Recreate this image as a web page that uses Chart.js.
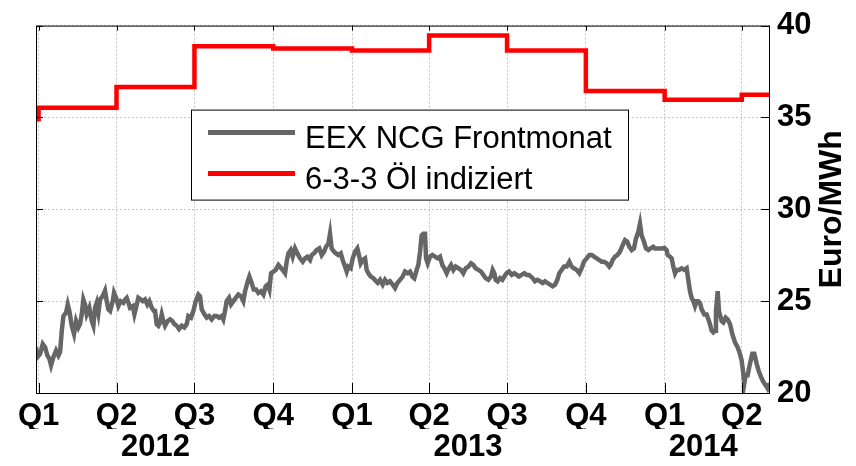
<!DOCTYPE html>
<html>
<head>
<meta charset="utf-8">
<script src="https://cdn.jsdelivr.net/npm/chart.js@4"></script>
<style>
  html, body { margin: 0; padding: 0; background: #fff; }
</style>
</head>
<body>
<canvas id="grafico" width="856" height="466"></canvas>
<script>
// Tage seit 01.01.2012
const quartalTage = [0, 91, 182, 274, 366, 456, 547, 639, 731, 821];
const quartalLabels = ['Q1', 'Q2', 'Q3', 'Q4', 'Q1', 'Q2', 'Q3', 'Q4', 'Q1', 'Q2'];
const jahrTage = [136.5, 501.5, 776];
const jahrLabels = ['2012', '2013', '2014'];
const yTicks = [20, 25, 30, 35, 40];

// 6-3-3 Öl indiziert (Stufen je Quartal)
const oelTage = [-3, 0, 91, 182, 274, 366, 456, 547, 639, 731, 821, 854];
const oelWerte = [34.9, 35.53, 36.66, 38.87, 38.76, 38.65, 39.46, 38.65, 36.44, 35.96, 36.23, 36.23];

// EEX NCG Frontmonat [Tag, Euro/MWh]
const gasWerte = [
  [-3, 22.49], [-1.4, 21.95], [1.8, 22.13], [4.9, 22.67], [7.6, 22.49], [10.3, 22.04], [12.7, 21.86], [14.6, 21.51],
  [17.3, 21.95], [20.4, 22.31], [23.2, 22.04], [25.1, 22.22], [27.1, 23.39], [29.0, 24.19], [32.1, 24.37], [34.1, 24.82],
  [36.0, 24.46], [38.7, 23.66], [41.4, 23.21], [43.8, 23.92], [46.5, 23.57], [48.4, 23.75], [50.4, 24.28], [52.3, 25.09],
  [54.3, 24.82], [56.2, 24.28], [59.3, 24.64], [62.1, 23.92], [64.0, 23.66], [66.0, 24.64], [67.9, 24.91], [69.9, 24.37],
  [71.8, 25.09], [74.9, 25.27], [77.6, 25.57], [79.6, 25.00], [81.5, 24.55], [83.5, 24.46], [86.6, 25.00], [88.1, 25.45],
  [90.5, 25.18], [93.2, 24.73], [95.9, 25.00], [99.0, 24.91], [101.0, 25.09], [102.9, 25.18], [104.9, 24.91], [106.8, 24.64],
  [110.0, 24.73], [111.9, 24.28], [113.8, 24.64], [116.5, 25.18], [119.3, 25.09], [121.6, 25.00], [124.3, 25.09], [127.0, 24.82],
  [129.4, 25.00], [132.1, 24.64], [134.8, 24.46],
  [136.0, 24.46], [137.9, 23.75], [139.9, 23.66], [141.8, 23.84], [143.8, 24.28], [145.7, 23.92], [147.7, 23.66], [150.8, 23.92],
  [153.5, 24.01], [156.2, 23.92], [158.6, 23.75], [161.3, 23.66], [164.0, 23.48], [167.1, 23.66], [170.2, 23.57], [173.0, 23.75],
  [174.9, 24.19], [178.0, 24.10], [180.7, 24.46], [183.5, 25.00], [186.6, 25.36], [188.5, 25.27], [190.5, 24.55], [193.6, 24.28],
  [196.3, 24.10], [199.0, 24.19], [202.1, 24.01], [205.2, 24.19], [208.0, 24.19], [210.7, 24.10], [213.8, 24.19], [215.7, 24.01],
  [217.7, 24.46], [219.6, 25.00], [222.4, 25.18], [224.7, 24.82], [227.4, 25.00], [230.2, 25.18], [233.3, 25.36], [236.4, 25.27],
  [239.1, 25.00], [241.1, 25.54], [244.2, 26.08], [246.1, 26.34], [248.8, 25.99], [251.2, 25.63], [253.9, 25.63], [256.6, 25.45],
  [259.7, 25.54], [262.5, 25.36], [265.2, 25.81], [267.5, 25.90], [269.5, 25.63], [271.4, 26.52], [274.1, 26.61], [276.9, 26.70],
  [280.0, 26.97],
  [285.0, 26.70], [287.8, 26.52], [289.7, 27.15], [291.7, 27.60], [294.4, 27.78], [296.7, 27.42], [299.4, 27.87], [302.2, 27.60],
  [305.3, 27.33], [308.4, 27.15], [311.1, 27.33], [313.8, 27.42], [317.0, 27.24], [318.9, 27.51], [321.6, 27.60], [324.7, 27.78],
  [327.8, 27.87], [330.6, 27.51], [333.3, 27.69], [335.6, 27.96], [338.4, 28.14], [340.3, 28.67], [342.2, 27.87], [345.0, 27.69],
  [347.3, 27.60], [350.0, 27.51], [352.8, 27.60], [355.1, 27.24], [357.8, 26.88], [359.8, 26.61], [361.7, 26.88], [364.4, 26.79],
  [366.8, 27.33], [369.5, 27.69], [372.2, 27.87], [374.5, 27.42], [376.1, 27.06], [378.4, 27.24], [381.2, 27.33], [383.1, 26.70],
  [385.1, 26.52], [387.8, 26.34], [390.9, 26.25], [394.0, 26.08], [396.0, 25.99], [398.7, 26.16], [401.8, 25.90], [404.5, 26.16],
  [407.2, 25.99], [410.3, 26.08], [413.5, 25.90], [416.2, 25.72], [418.9, 25.99], [422.0, 26.16], [425.1, 26.34], [427.9, 26.61],
  [431.0, 26.52], [433.7, 26.61], [436.4, 26.34], [438.7, 26.25], [441.5, 26.70], [443.4, 26.97], [445.4, 27.69], [447.3, 28.58],
  [449.3, 28.67], [451.2, 28.67], [452.4, 27.33], [454.3, 27.06], [457.0, 27.42], [459.8, 27.51], [462.9, 27.42], [466.0, 27.33],
  [468.7, 27.42], [471.4, 26.97], [473.8, 26.79], [476.5, 26.52], [479.2, 26.79], [481.6, 26.97], [484.3, 26.70], [487.0, 26.88],
  [490.1, 26.79], [493.2, 26.70], [495.9, 26.52], [498.7, 26.79], [501.8, 26.88], [504.9, 27.06], [507.6, 26.97], [510.3, 26.79],
  [513.4, 26.70], [516.6, 26.61], [519.3, 26.43], [522.0, 26.25], [525.1, 26.16], [528.2, 26.34], [530.2, 26.70], [532.1, 26.52],
  [533.7, 26.16], [536.0, 26.08], [538.8, 26.25], [541.5, 26.16], [543.8, 26.34], [546.5, 26.52], [549.3, 26.61], [552.4, 26.43],
  [555.5, 26.52], [558.2, 26.43], [560.9, 26.34], [564.0, 26.43], [567.2, 26.52], [569.9, 26.43], [572.6, 26.43],
  [576.9, 26.25], [579.6, 26.08], [582.3, 26.16], [585.5, 26.08], [588.6, 25.99], [591.3, 26.08], [594.0, 25.99], [597.1, 25.90],
  [600.2, 25.81], [603.0, 25.90], [605.7, 26.16], [608.0, 26.52], [610.7, 26.70], [613.5, 26.88], [616.6, 26.88], [619.7, 27.15],
  [622.4, 26.88], [625.1, 26.79], [628.3, 26.70], [631.4, 26.52], [634.1, 26.79], [636.8, 27.15], [640.0, 27.33], [643.1, 27.51],
  [645.8, 27.51], [648.5, 27.42], [651.6, 27.33], [654.7, 27.24], [657.4, 27.15], [660.2, 27.15], [663.3, 27.06], [666.4, 26.88],
  [668.0, 26.97], [670.3, 27.24], [673.0, 27.42], [675.7, 27.51], [678.8, 27.69], [682.0, 28.05], [684.7, 28.32], [687.4, 28.23],
  [689.7, 27.96], [692.5, 27.78], [695.2, 27.87], [697.5, 28.41], [700.2, 28.76], [702.2, 29.21], [704.1, 28.58], [706.9, 28.23],
  [709.2, 27.87], [711.9, 27.78], [714.6, 27.87], [717.7, 27.96],
  [719.7, 27.87], [722.8, 27.87], [725.5, 27.87], [728.3, 27.87], [730.6, 27.90], [733.3, 27.78], [734.5, 27.51], [737.2, 27.42],
  [739.2, 27.33], [741.1, 26.88], [743.1, 26.52], [745.0, 26.70], [747.7, 26.70], [750.8, 26.79], [754.0, 26.70], [756.7, 26.79],
  [758.6, 26.16], [760.6, 25.54], [762.5, 25.18], [764.5, 25.00], [766.4, 24.73], [768.4, 25.00], [770.3, 25.00], [772.2, 24.91],
  [774.2, 24.55], [777.3, 24.28], [780.0, 24.28], [782.0, 24.01], [783.9, 23.75], [785.9, 23.39], [787.8, 23.30], [789.8, 23.39],
  [790.9, 24.46], [792.9, 25.54], [794.4, 24.46], [796.0, 24.19], [797.5, 23.92], [799.5, 23.84], [802.2, 24.10], [804.5, 24.01],
  [807.3, 23.75], [810.0, 23.21], [813.1, 22.76], [816.2, 22.49], [818.9, 22.13], [820.9, 21.77], [822.8, 21.06], [824.0, 20.52],
  [825.6, 20.97], [827.9, 20.97], [830.6, 21.60], [833.3, 22.13], [835.7, 22.13], [838.4, 21.60], [841.1, 21.15], [843.5, 20.88],
  [846.2, 20.61], [848.9, 20.43], [851.2, 20.25], [852.8, 20.43], [854, 20.52]
];

const schrift = "'Liberation Sans', Arial, sans-serif";
Chart.defaults.font.family = schrift;
Chart.defaults.color = '#000';

// Rahmen, innenliegende Ticks, Legende und Achsentitel
const rahmen = {
  id: 'rahmen',
  afterDraw(chart) {
    const ctx = chart.ctx, a = chart.chartArea;
    const sx = chart.scales.x, sy = chart.scales.y;
    ctx.save();
    ctx.strokeStyle = '#000';
    ctx.lineWidth = 1;
    ctx.strokeRect(a.left + 0.5, a.top + 0.5, a.right - a.left - 1, a.bottom - a.top);
    ctx.beginPath();
    quartalTage.forEach(d => {
      const px = Math.round(sx.getPixelForValue(d)) + 0.5;
      ctx.moveTo(px, a.bottom); ctx.lineTo(px, a.bottom - 10);
      ctx.moveTo(px, a.top); ctx.lineTo(px, a.top + 5);
    });
    yTicks.forEach(v => {
      const py = Math.round(sy.getPixelForValue(v)) + 0.5;
      ctx.moveTo(a.right, py); ctx.lineTo(a.right - 9, py);
      ctx.moveTo(a.left, py); ctx.lineTo(a.left + 7, py);
    });
    ctx.stroke();

    // Legende
    const lx = a.left + 155, ly = a.top + 84;
    ctx.fillStyle = '#fff';
    ctx.fillRect(lx, ly, 437, 90);
    ctx.strokeRect(lx + 0.5, ly + 0.5, 437, 90);
    chart.data.datasets.forEach((ds, i) => {
      const yy = ly + 23 + i * 41;
      ctx.strokeStyle = ds.borderColor;
      ctx.lineWidth = 5;
      ctx.beginPath();
      ctx.moveTo(lx + 17, yy); ctx.lineTo(lx + 104, yy);
      ctx.stroke();
      ctx.fillStyle = '#000';
      ctx.font = '31px ' + schrift;
      ctx.textBaseline = 'alphabetic';
      ctx.textAlign = 'left';
      ctx.fillText(ds.label, lx + 114, yy + 15);
    });

    // Achsentitel
    ctx.translate(832, (a.top + a.bottom) / 2);
    ctx.rotate(-Math.PI / 2);
    ctx.font = 'bold 32px ' + schrift;
    ctx.textAlign = 'center';
    ctx.textBaseline = 'middle';
    ctx.fillText('Euro/MWh', 0, 0);
    ctx.restore();
  }
};

const grafico = document.getElementById('grafico').getContext('2d');

new Chart(grafico, {
  type: 'line',
  data: {
    datasets: [
      {
        label: 'EEX NCG Frontmonat',
        data: gasWerte.map(p => ({ x: p[0], y: p[1] })),
        borderColor: '#666666',
        borderWidth: 4.5,
        pointRadius: 0,
        tension: 0
      },
      {
        label: '6-3-3 Öl indiziert',
        data: oelTage.map((d, i) => ({ x: d, y: oelWerte[i] })),
        borderColor: '#ff0000',
        borderWidth: 4.5,
        pointRadius: 0,
        stepped: 'before'
      }
    ]
  },
  options: {
    responsive: false,
    animation: false,
    layout: { padding: { left: 36, top: 22, right: 0, bottom: 0 } },
    plugins: { legend: { display: false }, tooltip: { enabled: false } },
    scales: {
      x: {
        type: 'linear',
        position: 'bottom',
        min: -3,
        max: 854,
        afterBuildTicks: s => { s.ticks = quartalTage.map(v => ({ value: v })); },
        afterFit: s => { s.height = 36; },
        ticks: {
          autoSkip: false,
          maxRotation: 0,
          padding: 5,
          font: { size: 31, weight: 'bold' },
          callback: (v, i) => quartalLabels[i]
        },
        grid: { color: '#c4c4c4', lineWidth: 1, drawTicks: false },
        border: { display: false, dash: [2, 2] }
      },
      jahr: {
        type: 'linear',
        position: 'bottom',
        min: -3,
        max: 854,
        afterBuildTicks: s => { s.ticks = jahrTage.map(v => ({ value: v })); },
        afterFit: s => { s.height = 37; },
        ticks: {
          autoSkip: false,
          maxRotation: 0,
          padding: 0,
          font: { size: 31, weight: 'bold' },
          callback: (v, i) => jahrLabels[i]
        },
        grid: { display: false, drawTicks: false },
        border: { display: false }
      },
      y: {
        position: 'right',
        min: 20,
        max: 40,
        afterBuildTicks: s => { s.ticks = yTicks.map(v => ({ value: v })); },
        afterFit: s => { s.width = 86; },
        ticks: {
          padding: 7,
          font: { size: 31, weight: 'bold' }
        },
        grid: { color: '#c4c4c4', lineWidth: 1, drawTicks: false },
        border: { display: false, dash: [2, 2] }
      }
    }
  },
  plugins: [rahmen]
});
</script>
</body>
</html>
